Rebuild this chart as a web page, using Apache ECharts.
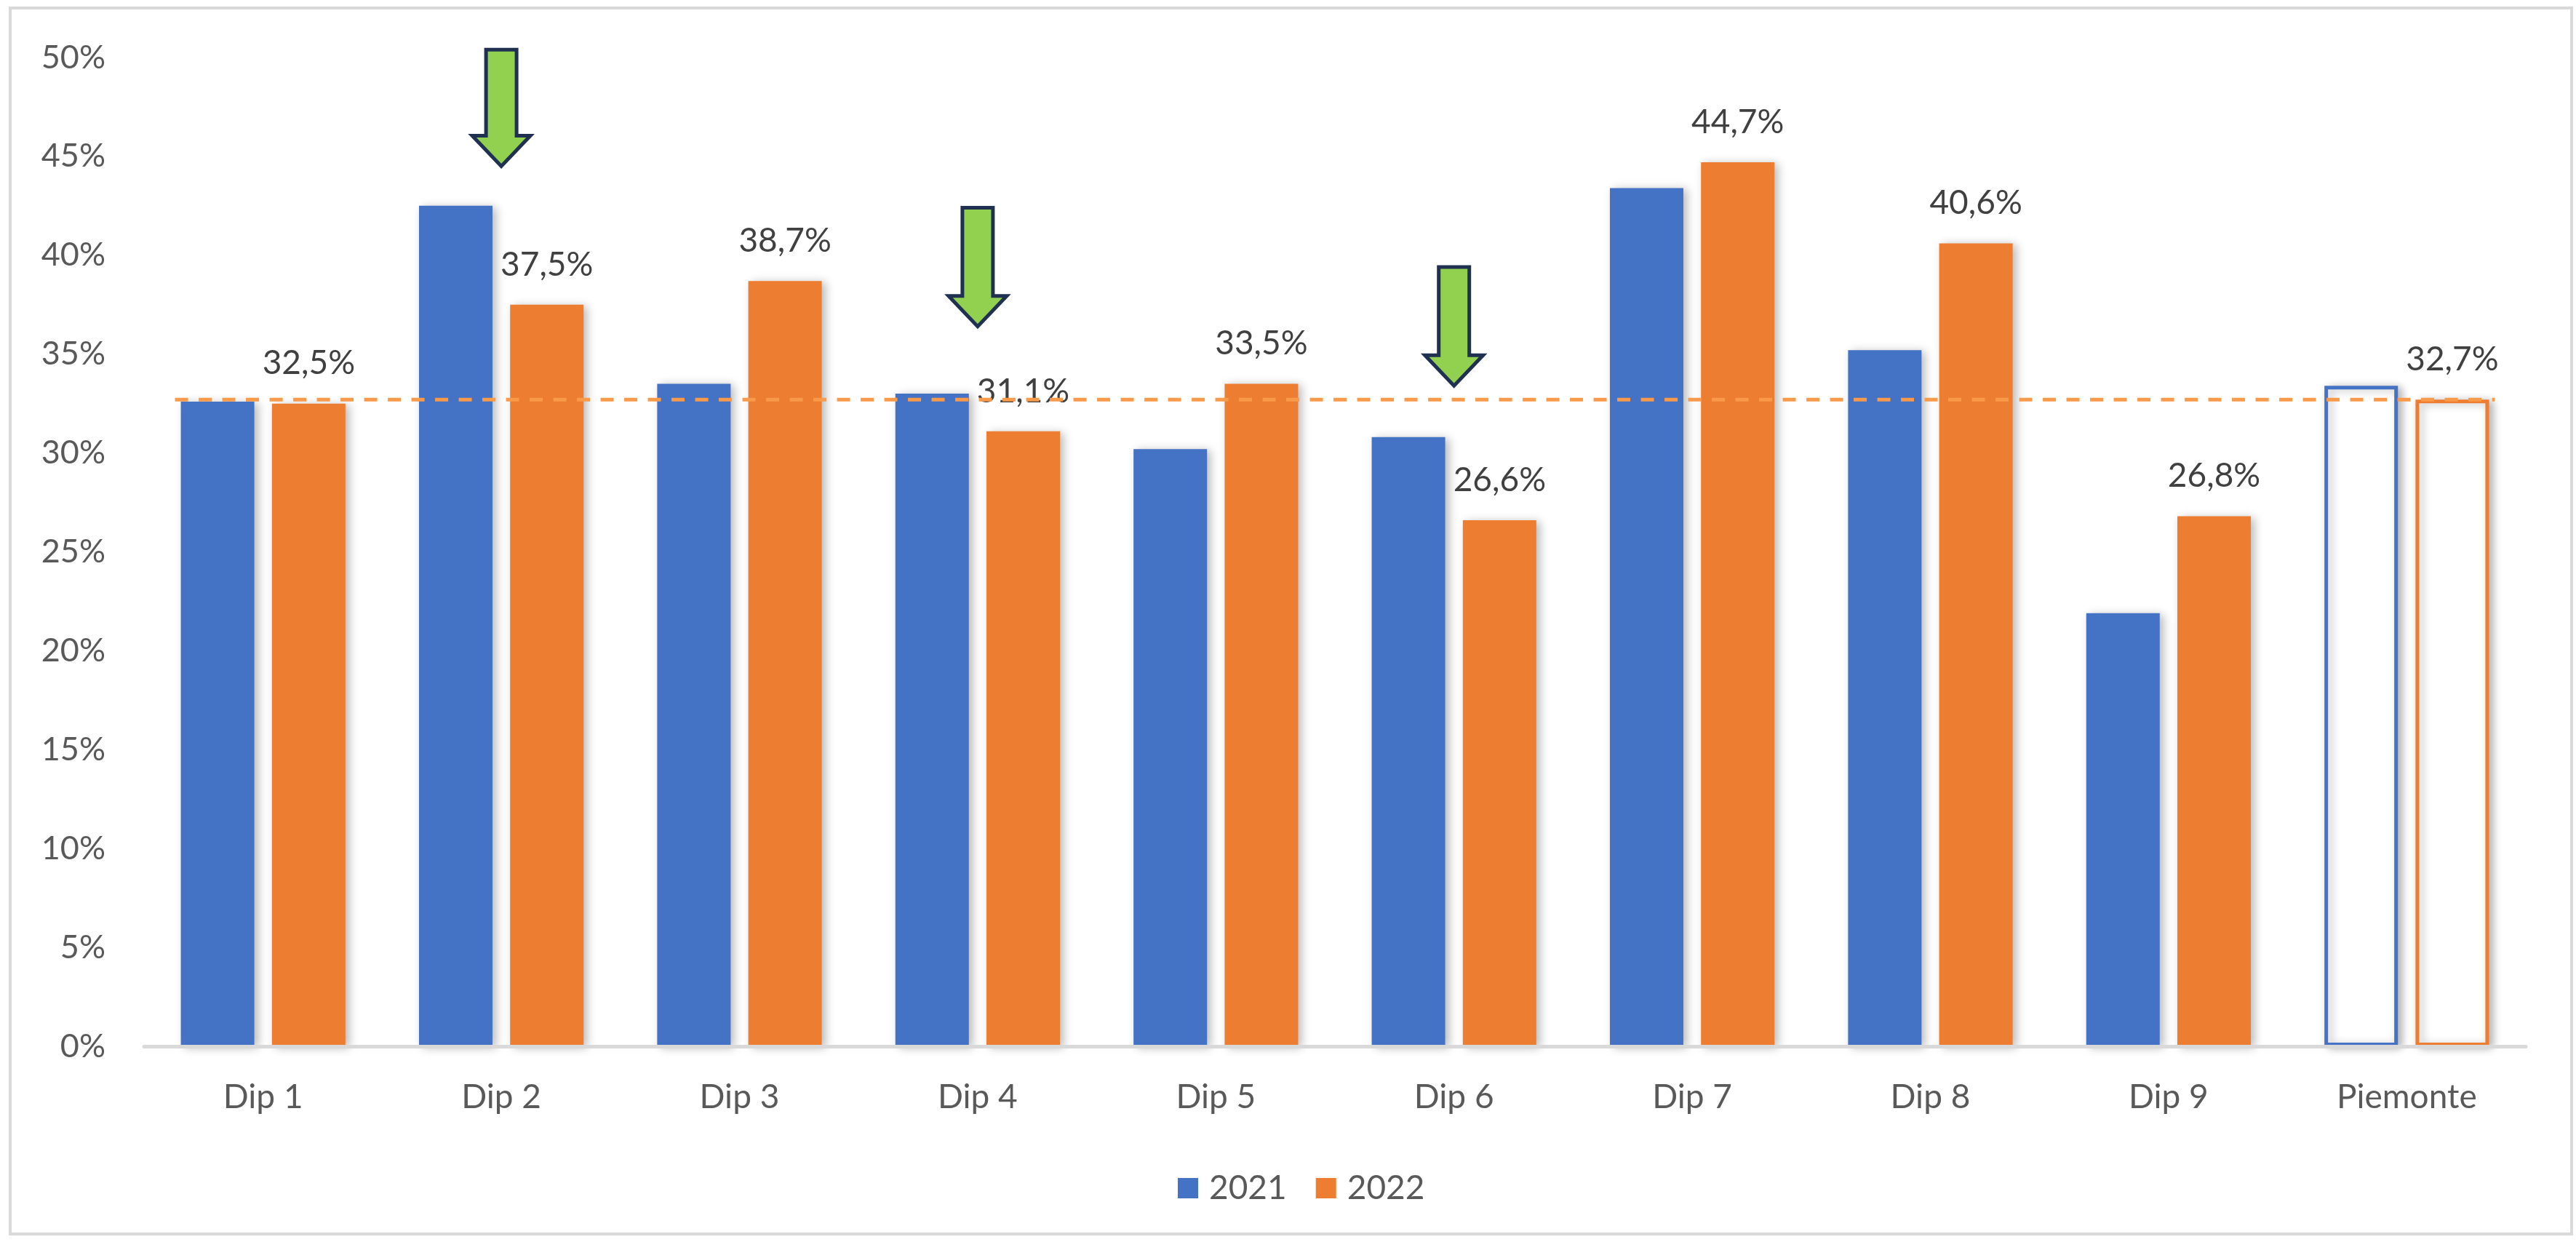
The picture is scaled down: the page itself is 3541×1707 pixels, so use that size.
<!DOCTYPE html>
<html>
<head>
<meta charset="utf-8">
<script src="https://cdn.jsdelivr.net/npm/echarts/dist/echarts.min.js"></script>
<style>
  html, body { margin: 0; padding: 0; background: #fff; }
  #chart { width: 3541px; height: 1707px; }
</style>
</head>
<body>
<div id="chart"></div>
<script>
// categories and values
const categories = ['Dip 1', 'Dip 2', 'Dip 3', 'Dip 4', 'Dip 5', 'Dip 6', 'Dip 7', 'Dip 8', 'Dip 9', 'Piemonte']
const values2021 = [32.6, 42.5, 33.5, 33.0, 30.2, 30.8, 43.4, 35.2, 21.9, 33.4]
const values2022 = [32.5, 37.5, 38.7, 31.1, 33.5, 26.6, 44.7, 40.6, 26.8, 32.7]
const seriesNames = ['2021', '2022']
// regional reference (Piemonte 2022), drawn from first to last category
const refLine = [['Dip 1', 'Piemonte', 32.7]]
// green arrows: category, top value, tip value
const arrows = [
  ['Dip 2', 50.4, 44.5],
  ['Dip 4', 42.4, 36.4],
  ['Dip 6', 39.4, 33.4]
]

const BLUE = '#4472C4'
const ORANGE = '#ED7D31'
const FONT = 'Lato'
const totalName = 'Piemonte'

const fmt = (v) => v.toFixed(1).replace('.', ',') + '%'

const barShadow = {
  shadowColor: 'rgba(0,0,0,0.28)',
  shadowBlur: 12,
  shadowOffsetX: 5,
  shadowOffsetY: 2
}

const makeData = (vals, color) => vals.map((v, i) => {
  if (categories[i] === totalName) {
    return { value: v, itemStyle: { color: '#fff', borderColor: color, borderWidth: 5 } }
  }
  return v
})

let chart = echarts.init(document.getElementById('chart'))

let option = {
  backgroundColor: '#fff',
  animation: false,
  textStyle: { fontFamily: FONT },
  graphic: [{
    type: 'rect',
    shape: { x: 14, y: 11, width: 3521, height: 1685 },
    style: { fill: 'none', stroke: '#D9D9D9', lineWidth: 4 },
    silent: true
  }],
  legend: {
    data: seriesNames,
    left: 1614,
    top: 1605,
    icon: 'rect',
    itemWidth: 28,
    itemHeight: 28,
    itemGap: 40,
    textStyle: { fontFamily: FONT, fontSize: 46, color: '#595959', padding: [0, 0, 0, 10] }
  },
  grid: {
    left: 198,
    right: 69,
    top: 79,
    bottom: 269
  },
  xAxis: {
    type: 'category',
    data: categories,
    z: 10,
    axisTick: { show: false },
    axisLine: { lineStyle: { color: '#D9D9D9', width: 5 } },
    axisLabel: { fontFamily: FONT, fontSize: 46, color: '#595959', margin: 47 }
  },
  yAxis: {
    type: 'value',
    min: 0,
    max: 50,
    interval: 5,
    splitLine: { show: false },
    axisLine: { show: false },
    axisTick: { show: false },
    axisLabel: { fontFamily: FONT, fontSize: 45, color: '#595959', margin: 53, formatter: '{value}%' }
  },
  series: [
    {
      name: seriesNames[0],
      type: 'bar',
      barWidth: 101,
      barGap: '24%',
      itemStyle: Object.assign({ color: BLUE }, barShadow),
      data: makeData(values2021, BLUE)
    },
    {
      name: seriesNames[1],
      type: 'bar',
      barWidth: 101,
      barGap: '24%',
      itemStyle: Object.assign({ color: ORANGE }, barShadow),
      label: {
        show: true,
        position: 'top',
        distance: 32,
        fontFamily: FONT,
        fontSize: 46,
        color: '#404040',
        formatter: (p) => fmt(p.value)
      },
      data: makeData(values2022, ORANGE)
    },
    {
      name: 'ref',
      type: 'custom',
      z: 5,
      silent: true,
      encode: { x: [0, 1], y: 2 },
      data: refLine,
      renderItem: (params, api) => {
        const p1 = api.coord([api.value(0), api.value(2)])
        const p2 = api.coord([api.value(1), api.value(2)])
        const band = api.size([1, 0])[0]
        return {
          type: 'line',
          shape: { x1: p1[0] - band * 0.37, y1: p1[1], x2: p2[0] + band * 0.37, y2: p2[1] },
          style: { stroke: '#F89A4A', lineWidth: 5, lineDash: [18, 14.5] }
        }
      }
    },
    {
      name: 'arrows',
      type: 'custom',
      z: 6,
      silent: true,
      encode: { x: 0, y: [1, 2] },
      data: arrows,
      renderItem: (params, api) => {
        const top = api.coord([api.value(0), api.value(1)])
        const tip = api.coord([api.value(0), api.value(2)])
        const cx = top[0]
        const shaft = 21
        const head = 40
        const headLen = 42
        const hy = tip[1] - headLen
        return {
          type: 'polygon',
          shape: {
            points: [
              [cx - shaft, top[1]], [cx + shaft, top[1]], [cx + shaft, hy],
              [cx + head, hy], [cx, tip[1]], [cx - head, hy], [cx - shaft, hy]
            ]
          },
          style: { fill: '#92D050', stroke: '#1F3050', lineWidth: 5, lineJoin: 'miter' }
        }
      }
    }
  ]
}

chart.setOption(option)
</script>
</body>
</html>
